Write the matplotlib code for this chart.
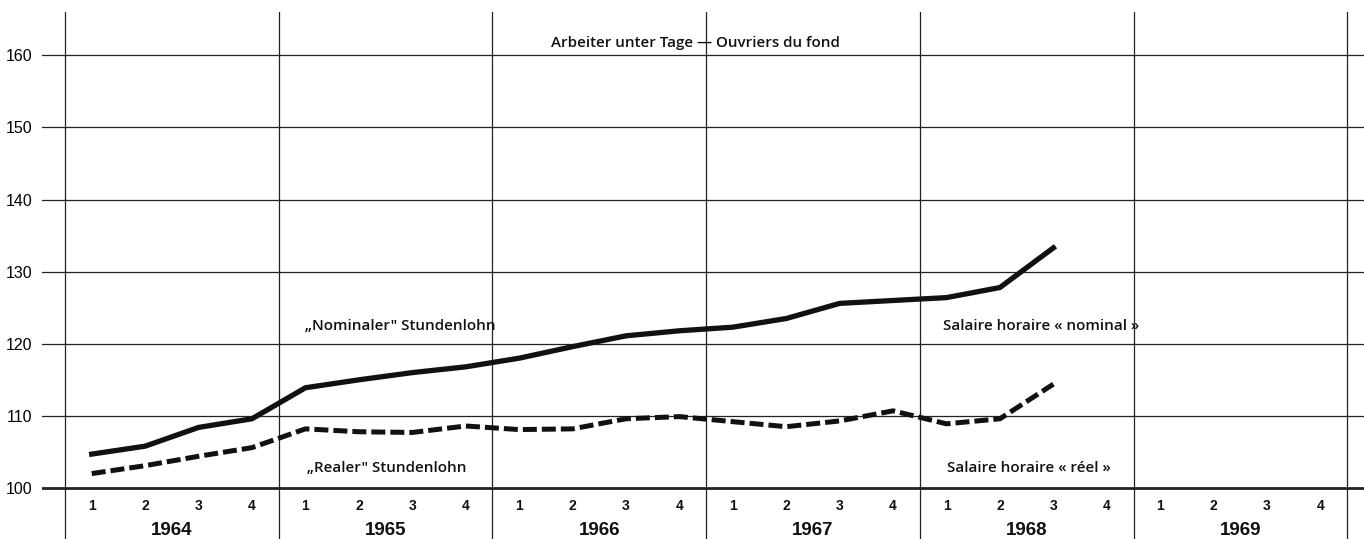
import numpy as np
import matplotlib.pyplot as plt

# =============================================================
# Dados (índices trimestrais)
# =============================================================
years = [1964, 1965, 1966, 1967, 1968, 1969]
quarters = ["1", "2", "3", "4"]

nominal = [104.7, 105.8, 108.4, 109.6,
           113.9, 115.0, 116.0, 116.8,
           118.0, 119.6, 121.1, 121.8,
           122.3, 123.5, 125.6, 126.0,
           126.4, 127.8, 133.3]

real = [102.0, 103.1, 104.4, 105.6,
        108.2, 107.8, 107.7, 108.6,
        108.1, 108.2, 109.6, 109.9,
        109.2, 108.5, 109.3, 110.7,
        108.9, 109.6, 114.4]

y_ticks = [100, 110, 120, 130, 140, 150, 160]

title = "Arbeiter unter Tage — Ouvriers du fond"
lbl_nom_de = "„Nominaler\" Stundenlohn"
lbl_real_de = "„Realer\" Stundenlohn"
lbl_nom_fr = "Salaire horaire « nominal »"
lbl_real_fr = "Salaire horaire « réel »"

# =============================================================
# Gráfico
# =============================================================
W, H = 1364, 539
fig = plt.figure(figsize=(W / 100, H / 100), dpi=100)
ax = fig.add_axes([42 / W, 0, 1 - 42 / W, 1 - 12 / H])

x_left = years[0] - 23 / 213.7
x_right = years[0] + (W - 65) / 213.7
ax.set_xlim(x_left, x_right)
ax.set_ylim(92.93, 166.0)
for s in ax.spines.values():
    s.set_visible(False)
ax.set_xticks([])

# linhas horizontais
for v in y_ticks:
    ax.axhline(v, color="#222222", lw=2.0 if v == 100 else 0.9, zorder=1)
# linhas verticais (separação dos anos)
for yr in years + [years[-1] + 1]:
    ax.axvline(yr, color="#222222", lw=0.9, zorder=1)

ax.set_yticks(y_ticks)
ax.set_yticklabels([str(v) for v in y_ticks], fontsize=11.5, family="Liberation Sans")
ax.tick_params(axis="y", length=0, pad=7)

# posições dos trimestres
x_q = np.array([yr + (q - 0.5) / 4 for yr in years for q in range(1, 5)])
ax.plot(x_q[:len(nominal)], nominal, color="#111111", lw=3.8,
        solid_joinstyle="round", zorder=3)
ax.plot(x_q[:len(real)], real, color="#111111", lw=3.6,
        dashes=(2.8, 1.0), zorder=3)

# rótulos dos trimestres e anos
for i, x in enumerate(x_q):
    ax.text(x, 97.5, quarters[i % 4], ha="center", va="center",
            fontsize=10, fontweight="bold", family="Liberation Sans", color="#111111")
for yr in years:
    ax.text(yr + 0.5, 94.1, str(yr), ha="center", va="center",
            fontsize=13.5, fontweight="bold", family="Liberation Sans",
            color="#111111")

ann = dict(fontsize=10.9, fontweight="semibold", family="Open Sans",
           color="#111111", va="center")
ax.text(1966.948, 161.7, title, ha="center", **ann)
ax.text(1965.123, 122.47, lbl_nom_de, ha="left", **ann)
ax.text(1965.132, 102.77, lbl_real_de, ha="left", **ann)
ax.text(1968.109, 122.47, lbl_nom_fr, ha="left", **ann)
ax.text(1968.127, 102.77, lbl_real_fr, ha="left", **ann)

fig.savefig("out.png", dpi=100)
